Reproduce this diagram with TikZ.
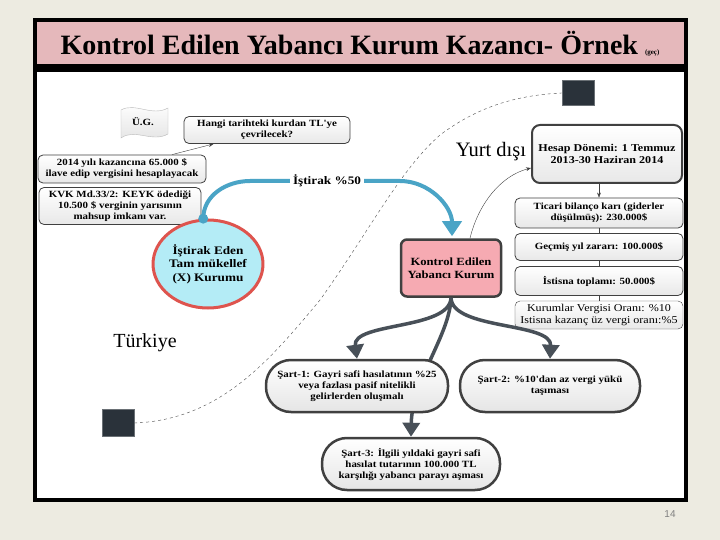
\documentclass[tikz,border=0pt]{standalone}
\usepackage{fontspec}
\setmainfont{Liberation Serif}
\setsansfont{Liberation Sans}
\newfontfamily\widefont[FakeStretch=1.15]{Liberation Serif}
\usepackage{tikz}
\usetikzlibrary{shapes,arrows.meta,positioning,calc}
\usepackage{xcolor}
\definecolor{slidebg}{RGB}{237,235,225}
\definecolor{titlepink}{RGB}{229,184,187}
\definecolor{boxline}{RGB}{64,64,64}
\definecolor{kepink}{RGB}{246,170,178}
\definecolor{circfill}{RGB}{180,236,246}
\definecolor{circred}{RGB}{222,84,78}
\definecolor{softcyan}{RGB}{74,164,198}
\definecolor{darksq}{RGB}{42,50,58}
\definecolor{arrgray}{RGB}{72,80,88}
\newcommand{\bx}{\widefont\bfseries\fontsize{9.5}{11}\selectfont}

\begin{document}
\begin{tikzpicture}[x=1pt, y=-1pt,
    infobox/.style={rectangle, draw=boxline, thick, top color=white,
        bottom color=gray!18, rounded corners=5pt, font=\bx,
        align=center, inner sep=1pt},
    colbox/.style={infobox, minimum width=168pt},
    sartbox/.style={rectangle, draw=boxline, line width=2.5pt, top color=white,
        bottom color=gray!20, rounded corners=25pt, font=\bx, align=center,
        minimum height=52pt},
    sqbox/.style={rectangle, fill=darksq, draw=darksq!70},
    arr/.style={-{Triangle[width=17pt, length=14pt]}, line width=3.5pt, arrgray},
    bluearr/.style={-{Triangle[width=19pt, length=15pt]}, line width=4pt, softcyan},
    thinarr/.style={-{Stealth[length=5pt]}, thin, boxline},
    dashline/.style={dashed, thin, black!70}
]
    \useasboundingbox (0,0) rectangle (720,540);
    \fill[slidebg] (0,0) rectangle (720,540);

    % title and frame
    \draw[line width=3.5pt, fill=titlepink] (35,20) rectangle (686,66);
    \node[font=\bfseries\fontsize{28}{30}\selectfont] (title) at (360,44)
        {Kontrol Edilen Yabancı Kurum Kazancı- Örnek {\fontsize{7}{8}\selectfont(geç)}};
    \draw[line width=3.5pt, fill=white] (35,70) rectangle (686,500);
    \node[font=\sffamily\fontsize{10}{12}\selectfont, gray] (page) at (670,514) {14};

    % border line between countries
    \node[sqbox, minimum width=32pt, minimum height=25pt] (sqtop) at (578,93) {};
    \node[sqbox, minimum width=32pt, minimum height=27pt] (sqbot) at (118,423) {};
    \draw[dashline] (sqbot.east) .. controls (220,420) and (270,360) .. (320,300)
        .. controls (370,230) and (400,170) .. (440,135)
        .. controls (480,105) and (520,95) .. (sqtop.west);
    \node[font=\fontsize{20.5}{22}\selectfont] (yd) at (491,152) {Yurt dışı};
    \node[font=\fontsize{20}{22}\selectfont] (tr) at (145,343) {Türkiye};

    % left side
    \node[font=\bx] (ug) at (143,122) {Ü.G.};
    \draw[gray!55, top color=white, bottom color=gray!22]
        (121,110) .. controls (135,102) and (152,117) .. (168,108) -- (168,134)
        .. controls (152,143) and (135,128) .. (121,138) -- cycle;
    \node[font=\bx] at (ug) {Ü.G.};
    \node[infobox, minimum width=166pt, minimum height=27pt] (kur) at (267,130)
        {Hangi tarihteki kurdan TL'ye\\çevrilecek?};
    \node[infobox, minimum width=168pt, minimum height=28pt] (kaz) at (122,169)
        {2014 yılı kazancına 65.000 \$\\ilave edip vergisini hesaplayacak};
    \node[infobox, minimum width=162pt, minimum height=37pt] (kvk) at (120,206)
        {KVK Md.33/2: KEYK ödediği\\10.500 \$ verginin yarısının\\mahsup imkanı var.};
    \draw[thinarr] ($(kaz.north)+(50,0)$) -- ($(kur.south west)+(30,0)$);

    \node[ellipse, draw=circred, line width=3pt, fill=circfill, minimum width=102pt,
        minimum height=88pt, align=center, inner sep=0pt,
        font=\widefont\bfseries\fontsize{11.5}{13.5}\selectfont] (circ) at (208,264)
        {İştirak Eden\\Tam mükellef\\(X) Kurumu};

    % participation arrow
    \node[draw=boxline, line width=2.5pt, fill=kepink, rectangle,
        rounded corners=6pt, minimum width=100pt, minimum height=57pt] (keyk) at (451,268) {};
    \node[align=center, font=\widefont\bfseries\fontsize{11}{13}\selectfont] at (keyk)
        {Kontrol Edilen\\Yabancı Kurum};
    \node[font=\widefont\bfseries\fontsize{11.5}{13}\selectfont, fill=white, inner sep=3pt]
        (ist) at (327,181) {İştirak \%50};
    \coordinate (dot) at (circ.96);
    \draw[line width=4pt, softcyan] (dot) to[out=90, in=180] (250,181) -- (ist.west);
    \draw[bluearr] (ist.east) -- (400,181) to[out=0, in=90] ($(keyk.north)+(1,-2)$);
    \fill[softcyan] (dot) circle (5pt);

    % right column
    \node[infobox, line width=2pt, rounded corners=8pt, minimum width=150pt,
        minimum height=58pt, font=\widefont\bfseries\fontsize{10.5}{12}\selectfont] (hesap) at (607,154)
        {Hesap Dönemi: 1 Temmuz\\2013-30 Haziran 2014};
    \node[colbox, minimum height=30pt] (ticari) at (599,213)
        {Ticari bilanço karı (giderler\\düşülmüş): 230.000\$};
    \node[colbox, minimum height=27pt] (gecmis) at (599,247) {Geçmiş yıl zararı: 100.000\$};
    \node[colbox, minimum height=29pt] (istisna) at (599,281) {İstisna toplamı: 50.000\$};
    \node[colbox, thin, minimum height=28pt, font=\widefont\fontsize{10.5}{12}\selectfont] (oran) at (599,315)
        {Kurumlar Vergisi Oranı: \%10\\Istisna kazanç üz vergi oranı:\%5};
    \draw[thinarr] (ticari.north |- hesap.south) -- (ticari.north);
    \draw[boxline] (ticari) -- (gecmis);
    \draw[boxline] (gecmis) -- (istisna);
    \draw[boxline] (istisna) -- (oran);
    \draw[thinarr] ($(keyk.north)+(19,0)$) .. controls (478,205) and (500,176)
        .. ($(hesap.west)+(0,14)$);

    % conditions
    \node[sartbox, minimum width=178pt] (sart3) at (411,464)
        {Şart-3: İlgili yıldaki gayri safi\\hasılat tutarının 100.000 TL\\karşılığı yabancı parayı aşması};
    \draw[arr] (keyk.south) .. controls (450,335) and (412,380) .. (sart3.north);
    \node[sartbox, minimum width=182pt] (sart1) at (357,386)
        {Şart-1: Gayri safi hasılatının \%25\\veya fazlası pasif nitelikli\\gelirlerden oluşmalı};
    \node[sartbox, minimum width=180pt] (sart2) at (550,386)
        {Şart-2: \%10'dan az vergi yükü\\taşıması};
    \draw[arr] (keyk.south) .. controls (450,330) and (352,322) .. (sart1.north);
    \draw[arr] (keyk.south) .. controls (452,330) and (552,322) .. (sart2.north);
\end{tikzpicture}
\end{document}
